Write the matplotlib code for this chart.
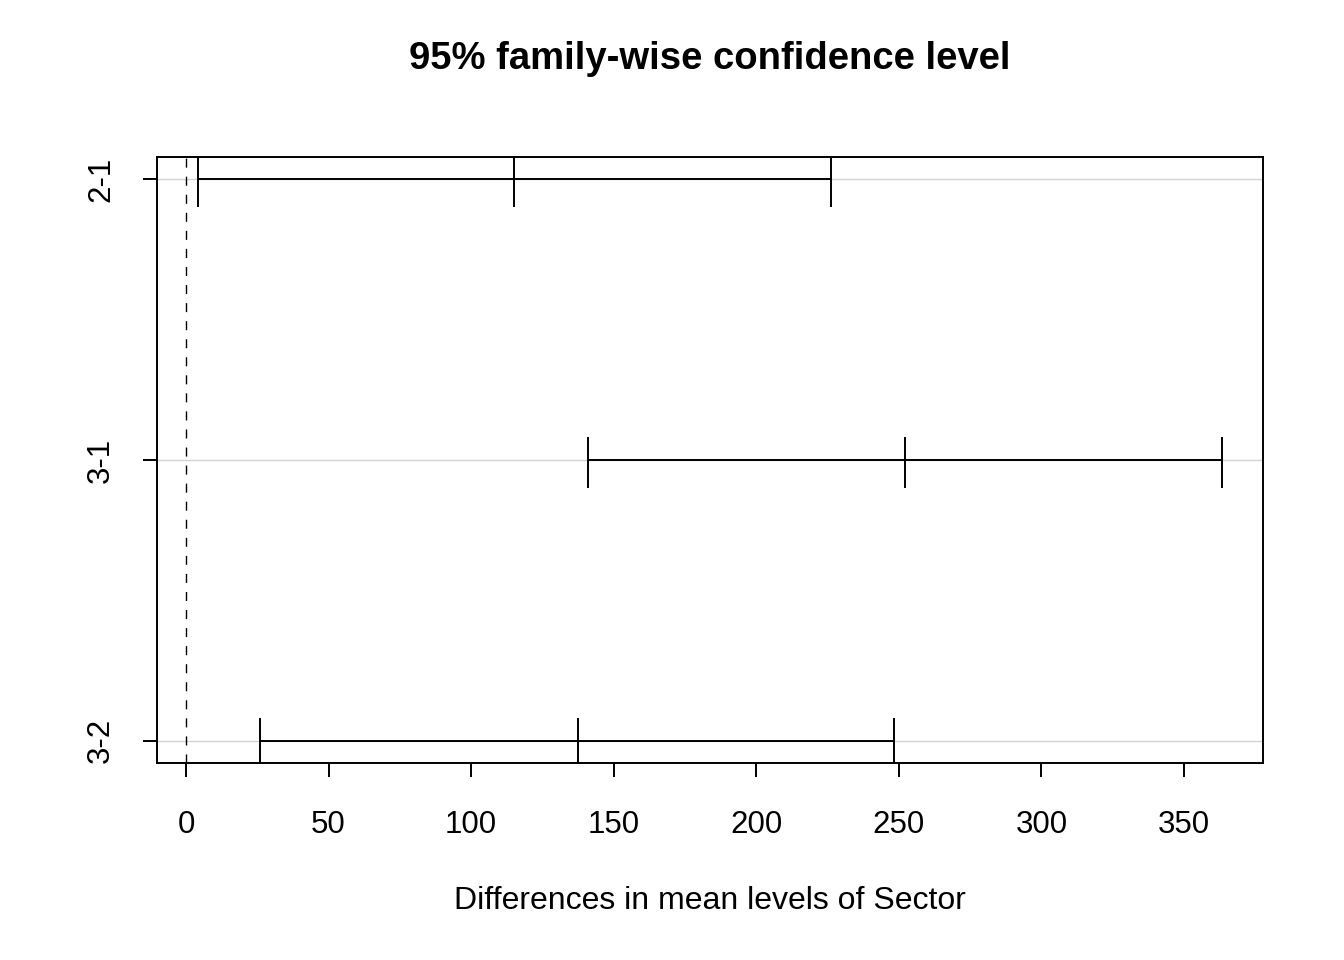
import numpy as np
import matplotlib.pyplot as plt

plt.rcParams['font.family'] = ['Liberation Sans', 'DejaVu Sans']

# Tukey HSD comparisons (top to bottom)
comparisons = ["2-1", "3-1", "3-2"]
diff = [115.1, 252.1, 137.3]
lwr = [4.2, 141.1, 26.0]
upr = [226.1, 363.3, 248.2]

ypos = np.arange(len(comparisons), 0, -1)

fig = plt.figure(figsize=(13.44, 9.6), dpi=100)
ax = fig.add_axes([0.1168, 0.2052, 0.8229, 0.6313])

lw = 1.4
# light grey guides at each comparison
for y in ypos:
    ax.axhline(y, color='lightgray', lw=1.0, zorder=0)
ax.axvline(0, color='black', lw=1.0, ls=(0, (6.5, 6.5)), zorder=1)

# intervals
ax.hlines(ypos, lwr, upr, color='black', lw=lw, zorder=2)
up, down = 0.082, 0.10
for x in (lwr, diff, upr):
    ax.vlines(x, ypos - down, ypos + up, color='black', lw=lw, zorder=2)

lo = min(lwr); hi = max(upr)
pad = 0.04 * (hi - lo)
ax.set_xlim(lo - pad, hi + pad)
ax.set_ylim(0.92, 3.08)

ax.set_xticks(np.arange(0, 351, 50))
ax.set_yticks(ypos)
ax.set_yticklabels(comparisons, rotation=90, va='center')
ax.tick_params(axis='both', length=10, width=lw, labelsize=22.5, direction='out')
ax.tick_params(axis='x', pad=24)
ax.tick_params(axis='y', pad=19.5)
for s in ax.spines.values():
    s.set_linewidth(lw)

ax.set_xlabel("Differences in mean levels of Sector", fontsize=23, labelpad=33)
ax.set_title("95% family-wise confidence level", fontsize=27.5, fontweight='bold', pad=63)

plt.savefig("out.png", dpi=100)
